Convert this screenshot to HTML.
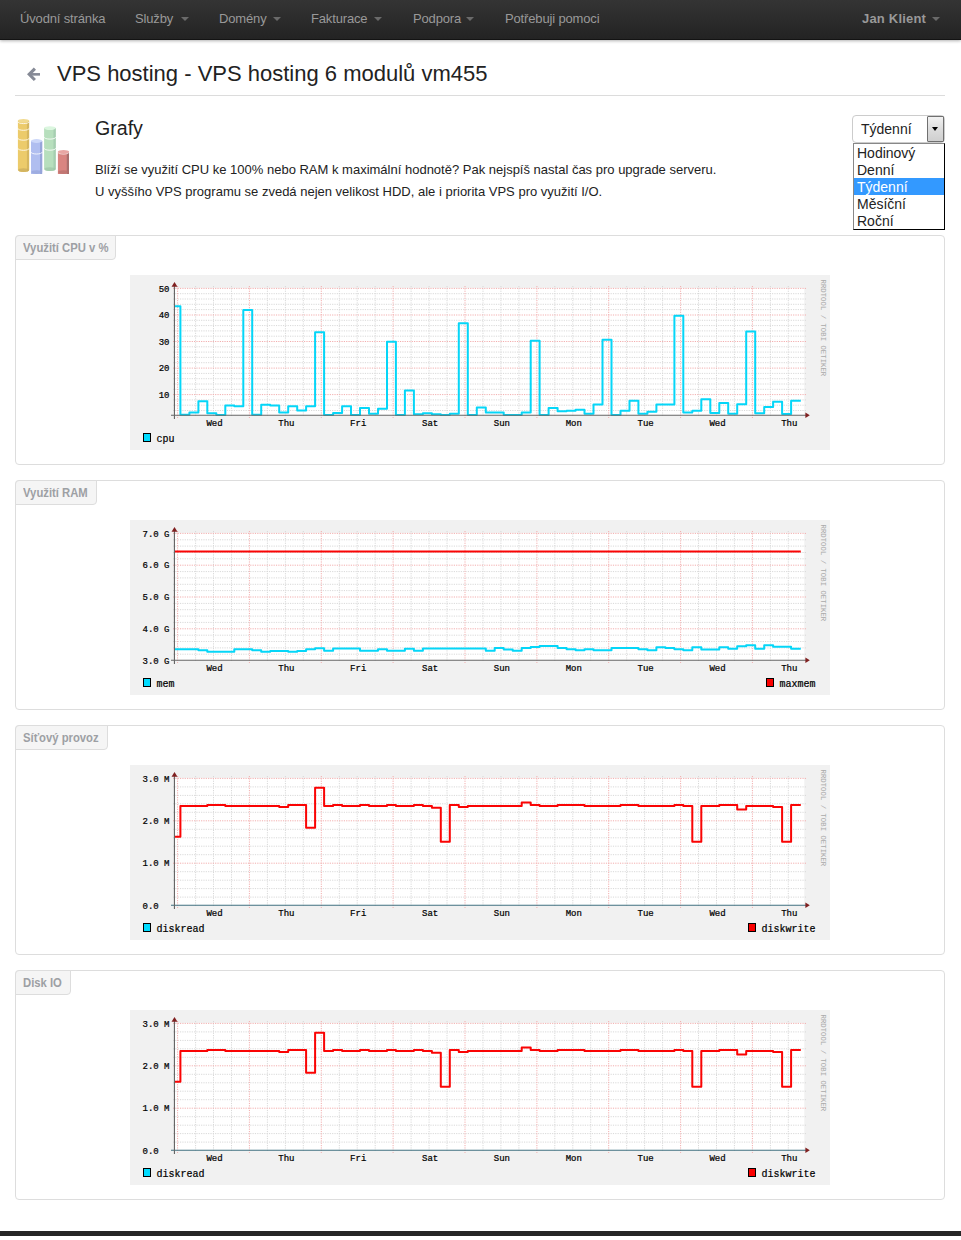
<!DOCTYPE html>
<html lang="cs"><head><meta charset="utf-8"><title>VPS hosting</title><style>
*{box-sizing:border-box}
html,body{margin:0;padding:0;background:#fff}
body{width:961px;height:1240px;position:relative;overflow:hidden;font-family:"Liberation Sans",sans-serif;font-size:13px;color:#333}
.nav{position:absolute;left:0;top:0;width:961px;height:40px;background:linear-gradient(#343434,#232323);border-bottom:1px solid #131313;box-shadow:0 1px 3px rgba(0,0,0,.3)}
.nav span{position:absolute;top:0;line-height:37px;font-size:13px;color:#999;white-space:nowrap;letter-spacing:-.15px}
.nav span.b{font-weight:bold;letter-spacing:.2px}
.nav i{position:absolute;top:17px;width:0;height:0;border-left:4px solid transparent;border-right:4px solid transparent;border-top:4px solid #6a6a6a}
.back{position:absolute;left:20px;top:60px}
h1{position:absolute;left:57px;top:60px;margin:0;font-weight:normal;font-size:22px;line-height:28px;color:#222;white-space:nowrap}
.hr{position:absolute;left:15px;top:95px;width:930px;height:1px;background:#dcdcdc}
.ico{position:absolute;left:15px;top:115px}
h2{position:absolute;left:95px;top:114px;margin:0;font-weight:normal;font-size:19.6px;line-height:28px;color:#222}
.p{position:absolute;left:95px;font-size:13px;line-height:20px;color:#222;white-space:nowrap}
.sel{position:absolute;left:852px;top:115px;width:93px;height:28px;border:1px solid #ccc;border-radius:4px;background:#fff;font-size:14px;line-height:26px;color:#222;padding-left:8px}
.sel b{position:absolute;right:0;top:0;width:17px;height:26px;border:1px solid #707070;border-radius:1px;background:linear-gradient(#f2f2f2,#ddd 50%,#cfcfcf)}
.sel b:after{content:"";position:absolute;left:4px;top:10px;border-left:3.5px solid transparent;border-right:3.5px solid transparent;border-top:4px solid #000}
.dd{position:absolute;left:853px;top:143px;width:92px;height:87px;background:#fff;border:1px solid #000;border-left-color:#888;border-top-color:#888;font-size:14px;color:#222}
.dd div{height:17px;line-height:19px;padding-left:3px}
.dd div.s{background:#3399ff;color:#fff}
.panel{position:absolute;left:15px;width:930px;height:230px;border:1px solid #ddd;border-radius:4px;background:#fff}
.panel .t{position:absolute;left:-1px;top:-1px;height:25px;padding:4px 7px 2px;font-size:12px;line-height:17px;font-weight:bold;color:#9da0a4;background:#f5f5f5;border:1px solid #ddd;border-radius:4px 0 4px 0;white-space:nowrap}
.panel .t span{display:inline-block;transform:scaleX(.94);transform-origin:0 50%}
.panel .ch{position:absolute;left:114px;top:39px}
.foot{position:absolute;left:0;top:1231px;width:961px;height:5px;background:#262626}
</style></head><body>
<div class="nav"><span style="left:20px">Úvodní stránka</span><span style="left:135px">Služby</span><i style="left:181px"></i><span style="left:219px">Domény</span><i style="left:273px"></i><span style="left:311px">Fakturace</span><i style="left:374px"></i><span style="left:413px">Podpora</span><i style="left:466px"></i><span style="left:505px">Potřebuji pomoci</span><span class="b" style="left:862px">Jan Klient</span><i style="left:932px"></i></div>
<svg class="back" width="30" height="30" viewBox="20 60 30 30"><path d="M34.9 68.6L29.2 74.3L34.9 80" stroke="#868a96" stroke-width="3.1" fill="none" stroke-linecap="butt" stroke-linejoin="miter"/><path d="M30 74.35H40" stroke="#868a96" stroke-width="2.6" fill="none"/></svg>
<h1>VPS hosting - VPS hosting 6 modulů vm455</h1><div class="hr"></div>
<svg class="ico" width="60" height="64" viewBox="15 115 60 64"><path d="M17.9 120.8V170.1A5.6 1.9 0 0 0 29.1 170.1V120.8Z" fill="#eccb6b"/><path d="M26.9 121.6V171.4A2.2 1.2 0 0 0 29.1 170.1V120.8Z" fill="#d6b75f"/><ellipse cx="23.5" cy="170.1" rx="5.3" ry="1.9" fill="#c9ab5c" opacity="0.7"/><path d="M17.9 121.7A5.6 1.9 0 0 0 29.1 121.7" fill="none" stroke="#fff" stroke-width="0.9" opacity="0.9"/><path d="M17.9 128.4A5.6 1.9 0 0 0 29.1 128.4" fill="none" stroke="#fff" stroke-width="0.9" opacity="0.9"/><path d="M17.9 138.3A5.6 1.9 0 0 0 29.1 138.3" fill="none" stroke="#fff" stroke-width="0.9" opacity="0.9"/><path d="M17.9 148.4A5.6 1.9 0 0 0 29.1 148.4" fill="none" stroke="#fff" stroke-width="0.9" opacity="0.9"/><ellipse cx="23.5" cy="120.8" rx="5.6" ry="1.9" fill="#f1da8f"/><path d="M31.0 141.0V172.1A5.6 1.9 0 0 0 42.2 172.1V141.0Z" fill="#b0bef0"/><path d="M40.0 141.8V173.4A2.2 1.2 0 0 0 42.2 172.1V141.0Z" fill="#97a5da"/><rect x="31.0" y="171.9" width="9.0" height="2.1" fill="#b0bef0"/><rect x="40.0" y="171.9" width="2.2" height="2.1" fill="#97a5da"/><ellipse cx="36.6" cy="172.1" rx="5.3" ry="1.9" fill="#97a5da" opacity="0.7"/><path d="M31.0 152.1A5.6 1.9 0 0 0 42.2 152.1" fill="none" stroke="#fff" stroke-width="0.9" opacity="0.9"/><ellipse cx="36.6" cy="141.0" rx="5.6" ry="1.9" fill="#ccd7f9"/><path d="M44.1 128.1V169.1A5.8 1.9 0 0 0 55.7 169.1V128.1Z" fill="#b7dfbd"/><path d="M53.5 128.9V170.4A2.2 1.2 0 0 0 55.7 169.1V128.1Z" fill="#a6ceb1"/><ellipse cx="49.9" cy="169.1" rx="5.5" ry="1.9" fill="#9cc4a6" opacity="0.7"/><path d="M44.1 137.2A5.8 1.9 0 0 0 55.7 137.2" fill="none" stroke="#fff" stroke-width="0.9" opacity="0.9"/><path d="M44.1 148.3A5.8 1.9 0 0 0 55.7 148.3" fill="none" stroke="#fff" stroke-width="0.9" opacity="0.9"/><ellipse cx="49.9" cy="128.1" rx="5.8" ry="1.9" fill="#dbf6df"/><path d="M57.9 151.8V172.1A5.6 1.9 0 0 0 69.0 172.1V151.8Z" fill="#d98581"/><path d="M66.8 152.6V173.4A2.2 1.2 0 0 0 69.0 172.1V151.8Z" fill="#a96f6d"/><rect x="57.9" y="171.9" width="8.9" height="2.1" fill="#d98581"/><rect x="66.8" y="171.9" width="2.2" height="2.1" fill="#a96f6d"/><ellipse cx="63.5" cy="172.1" rx="5.3" ry="1.9" fill="#b8716e" opacity="0.7"/><path d="M57.9 152.4A5.6 1.9 0 0 0 69.0 152.4" fill="none" stroke="#fff" stroke-width="0.9" opacity="0.9"/><ellipse cx="63.5" cy="151.8" rx="5.6" ry="1.9" fill="#e8a6a3"/></svg>
<h2>Grafy</h2>
<div class="p" style="top:160px">Blíží se využití CPU ke 100% nebo RAM k maximální hodnotě? Pak nejspíš nastal čas pro upgrade serveru.</div>
<div class="p" style="top:182px">U vyššího VPS programu se zvedá nejen velikost HDD, ale i priorita VPS pro využití I/O.</div>
<div class="sel">Týdenní<b></b></div>
<div class="panel" style="top:235px"><div class="t" style="width:101px"><span>Využití CPU v %</span></div>
<svg class="ch" width="700" height="175" viewBox="0 0 700 175">
<rect width="700" height="175" fill="#f1f1f1"/>
<rect x="45" y="13" width="629.3" height="127.5" fill="#fff"/>
<g fill="none">
<path d="M43 135.5H677" stroke="#d8d8d8" stroke-dasharray="1.17 1.17"/>
<path d="M43 130.2H677" stroke="#d8d8d8" stroke-dasharray="1.17 1.17"/>
<path d="M43 124.9H677" stroke="#d8d8d8" stroke-dasharray="1.17 1.17"/>
<path d="M43 114.3H677" stroke="#d8d8d8" stroke-dasharray="1.17 1.17"/>
<path d="M43 109.0H677" stroke="#d8d8d8" stroke-dasharray="1.17 1.17"/>
<path d="M43 103.7H677" stroke="#d8d8d8" stroke-dasharray="1.17 1.17"/>
<path d="M43 98.4H677" stroke="#d8d8d8" stroke-dasharray="1.17 1.17"/>
<path d="M43 87.7H677" stroke="#d8d8d8" stroke-dasharray="1.17 1.17"/>
<path d="M43 82.4H677" stroke="#d8d8d8" stroke-dasharray="1.17 1.17"/>
<path d="M43 77.1H677" stroke="#d8d8d8" stroke-dasharray="1.17 1.17"/>
<path d="M43 71.8H677" stroke="#d8d8d8" stroke-dasharray="1.17 1.17"/>
<path d="M43 61.2H677" stroke="#d8d8d8" stroke-dasharray="1.17 1.17"/>
<path d="M43 55.9H677" stroke="#d8d8d8" stroke-dasharray="1.17 1.17"/>
<path d="M43 50.6H677" stroke="#d8d8d8" stroke-dasharray="1.17 1.17"/>
<path d="M43 45.3H677" stroke="#d8d8d8" stroke-dasharray="1.17 1.17"/>
<path d="M43 34.6H677" stroke="#d8d8d8" stroke-dasharray="1.17 1.17"/>
<path d="M43 29.3H677" stroke="#d8d8d8" stroke-dasharray="1.17 1.17"/>
<path d="M43 24.0H677" stroke="#d8d8d8" stroke-dasharray="1.17 1.17"/>
<path d="M43 18.7H677" stroke="#d8d8d8" stroke-dasharray="1.17 1.17"/>
<path d="M65.6 11V142" stroke="#d8d8d8" stroke-dasharray="1.17 1.17"/>
<path d="M83.5 11V142" stroke="#d8d8d8" stroke-dasharray="1.17 1.17"/>
<path d="M101.5 11V142" stroke="#d8d8d8" stroke-dasharray="1.17 1.17"/>
<path d="M137.4 11V142" stroke="#d8d8d8" stroke-dasharray="1.17 1.17"/>
<path d="M155.4 11V142" stroke="#d8d8d8" stroke-dasharray="1.17 1.17"/>
<path d="M173.3 11V142" stroke="#d8d8d8" stroke-dasharray="1.17 1.17"/>
<path d="M209.3 11V142" stroke="#d8d8d8" stroke-dasharray="1.17 1.17"/>
<path d="M227.2 11V142" stroke="#d8d8d8" stroke-dasharray="1.17 1.17"/>
<path d="M245.2 11V142" stroke="#d8d8d8" stroke-dasharray="1.17 1.17"/>
<path d="M281.1 11V142" stroke="#d8d8d8" stroke-dasharray="1.17 1.17"/>
<path d="M299.1 11V142" stroke="#d8d8d8" stroke-dasharray="1.17 1.17"/>
<path d="M317.0 11V142" stroke="#d8d8d8" stroke-dasharray="1.17 1.17"/>
<path d="M353.0 11V142" stroke="#d8d8d8" stroke-dasharray="1.17 1.17"/>
<path d="M370.9 11V142" stroke="#d8d8d8" stroke-dasharray="1.17 1.17"/>
<path d="M388.9 11V142" stroke="#d8d8d8" stroke-dasharray="1.17 1.17"/>
<path d="M424.8 11V142" stroke="#d8d8d8" stroke-dasharray="1.17 1.17"/>
<path d="M442.8 11V142" stroke="#d8d8d8" stroke-dasharray="1.17 1.17"/>
<path d="M460.7 11V142" stroke="#d8d8d8" stroke-dasharray="1.17 1.17"/>
<path d="M496.7 11V142" stroke="#d8d8d8" stroke-dasharray="1.17 1.17"/>
<path d="M514.6 11V142" stroke="#d8d8d8" stroke-dasharray="1.17 1.17"/>
<path d="M532.6 11V142" stroke="#d8d8d8" stroke-dasharray="1.17 1.17"/>
<path d="M568.5 11V142" stroke="#d8d8d8" stroke-dasharray="1.17 1.17"/>
<path d="M586.5 11V142" stroke="#d8d8d8" stroke-dasharray="1.17 1.17"/>
<path d="M604.4 11V142" stroke="#d8d8d8" stroke-dasharray="1.17 1.17"/>
<path d="M640.4 11V142" stroke="#d8d8d8" stroke-dasharray="1.17 1.17"/>
<path d="M658.3 11V142" stroke="#d8d8d8" stroke-dasharray="1.17 1.17"/>
<path d="M43 13.4H677" stroke="#f2adad" stroke-dasharray="1.17 1.17"/>
<path d="M43 40.0H677" stroke="#f2adad" stroke-dasharray="1.17 1.17"/>
<path d="M43 66.5H677" stroke="#f2adad" stroke-dasharray="1.17 1.17"/>
<path d="M43 93.1H677" stroke="#f2adad" stroke-dasharray="1.17 1.17"/>
<path d="M43 119.6H677" stroke="#f2adad" stroke-dasharray="1.17 1.17"/>
<path d="M47.6 11V143" stroke="#f2adad" stroke-dasharray="1.17 1.17"/>
<path d="M119.4 11V143" stroke="#f2adad" stroke-dasharray="1.17 1.17"/>
<path d="M191.3 11V143" stroke="#f2adad" stroke-dasharray="1.17 1.17"/>
<path d="M263.1 11V143" stroke="#f2adad" stroke-dasharray="1.17 1.17"/>
<path d="M335.0 11V143" stroke="#f2adad" stroke-dasharray="1.17 1.17"/>
<path d="M406.9 11V143" stroke="#f2adad" stroke-dasharray="1.17 1.17"/>
<path d="M478.7 11V143" stroke="#f2adad" stroke-dasharray="1.17 1.17"/>
<path d="M550.6 11V143" stroke="#f2adad" stroke-dasharray="1.17 1.17"/>
<path d="M622.4 11V143" stroke="#f2adad" stroke-dasharray="1.17 1.17"/>
</g>
<path d="M44.7 31.3 L50.4 31.3 L50.4 139.7 L59.4 139.7 L59.4 137.5 L68.4 137.5 L68.4 126.2 L77.3 126.2 L77.3 138.2 L86.3 138.2 L86.3 139.9 L95.3 139.9 L95.3 130.5 L104.3 130.5 L104.3 131.2 L113.3 131.2 L113.3 35.0 L122.2 35.0 L122.2 139.7 L131.2 139.7 L131.2 129.7 L140.2 129.7 L140.2 130.5 L149.2 130.5 L149.2 137.5 L158.2 137.5 L158.2 131.2 L167.2 131.2 L167.2 135.5 L176.1 135.5 L176.1 131.2 L185.1 131.2 L185.1 57.2 L194.1 57.2 L194.1 139.9 L203.1 139.9 L203.1 138.0 L212.1 138.0 L212.1 131.2 L221.0 131.2 L221.0 139.9 L230.0 139.9 L230.0 133.0 L239.0 133.0 L239.0 138.8 L248.0 138.8 L248.0 133.8 L257.0 133.8 L257.0 66.7 L265.9 66.7 L265.9 139.9 L274.9 139.9 L274.9 115.5 L283.9 115.5 L283.9 139.2 L292.9 139.2 L292.9 138.3 L301.9 138.3 L301.9 139.2 L310.8 139.2 L310.8 139.9 L319.8 139.9 L319.8 138.8 L328.8 138.8 L328.8 48.3 L337.8 48.3 L337.8 139.9 L346.8 139.9 L346.8 132.5 L355.8 132.5 L355.8 137.5 L364.7 137.5 L364.7 137.5 L373.7 137.5 L373.7 139.9 L382.7 139.9 L382.7 139.9 L391.7 139.9 L391.7 137.5 L400.7 137.5 L400.7 65.8 L409.6 65.8 L409.6 139.9 L418.6 139.9 L418.6 133.0 L427.6 133.0 L427.6 136.3 L436.6 136.3 L436.6 135.8 L445.6 135.8 L445.6 134.7 L454.5 134.7 L454.5 138.8 L463.5 138.8 L463.5 129.5 L472.5 129.5 L472.5 64.7 L481.5 64.7 L481.5 139.9 L490.5 139.9 L490.5 135.8 L499.5 135.8 L499.5 125.8 L508.4 125.8 L508.4 138.8 L517.4 138.8 L517.4 136.7 L526.4 136.7 L526.4 129.5 L535.4 129.5 L535.4 129.5 L544.4 129.5 L544.4 40.8 L553.3 40.8 L553.3 137.5 L562.3 137.5 L562.3 135.8 L571.3 135.8 L571.3 124.2 L580.3 124.2 L580.3 138.0 L589.3 138.0 L589.3 128.0 L598.2 128.0 L598.2 138.8 L607.2 138.8 L607.2 129.3 L616.2 129.3 L616.2 56.4 L625.2 56.4 L625.2 138.3 L634.2 138.3 L634.2 131.9 L643.1 131.9 L643.1 126.8 L652.1 126.8 L652.1 138.9 L661.1 138.9 L661.1 125.7 L670.8 125.7" fill="none" stroke="#05d6f8" stroke-width="2" stroke-linejoin="round"/>
<g fill="none">
<path d="M41 140.2H677" stroke="#666" stroke-width="1.15"/>
<path d="M44.45 9V144" stroke="#666" stroke-width="1.15"/>
</g>
<path d="M41.5 11.7L47.5 11.7L44.5 7Z" fill="#802020"/>
<path d="M675.4 137.4L675.4 143L679.8 140.2Z" fill="#802020"/>
<g font-family="'Liberation Mono', monospace" font-size="9" fill="#000" stroke="#000" stroke-width="0.22">
<text x="39.5" y="16.5" text-anchor="end">50</text>
<text x="39.5" y="43.1" text-anchor="end">40</text>
<text x="39.5" y="69.6" text-anchor="end">30</text>
<text x="39.5" y="96.2" text-anchor="end">20</text>
<text x="39.5" y="122.7" text-anchor="end">10</text>
<text x="84.5" y="150.6" text-anchor="middle">Wed</text>
<text x="156.4" y="150.6" text-anchor="middle">Thu</text>
<text x="228.2" y="150.6" text-anchor="middle">Fri</text>
<text x="300.1" y="150.6" text-anchor="middle">Sat</text>
<text x="371.9" y="150.6" text-anchor="middle">Sun</text>
<text x="443.8" y="150.6" text-anchor="middle">Mon</text>
<text x="515.6" y="150.6" text-anchor="middle">Tue</text>
<text x="587.5" y="150.6" text-anchor="middle">Wed</text>
<text x="659.3" y="150.6" text-anchor="middle">Thu</text>
</g>
<text transform="translate(690.5 4.5) rotate(90)" font-family="'Liberation Mono', monospace" font-size="7.33" fill="#a9a9a9">RRDTOOL / TOBI OETIKER</text>
<g font-family="'Liberation Mono', monospace" font-size="10" fill="#000" stroke="#000" stroke-width="0.2">
<rect x="13.5" y="158.5" width="7" height="8" fill="#00dcff" stroke="#000" stroke-width="1" shape-rendering="crispEdges"/>
<text x="26.5" y="166.7">cpu</text>
</g>
</svg>
</div>
<div class="panel" style="top:480px"><div class="t" style="width:82px"><span>Využití RAM</span></div>
<svg class="ch" width="700" height="175" viewBox="0 0 700 175">
<rect width="700" height="175" fill="#f1f1f1"/>
<rect x="45" y="13" width="629.3" height="127.5" fill="#fff"/>
<g fill="none">
<path d="M43 134.2H677" stroke="#d8d8d8" stroke-dasharray="1.17 1.17"/>
<path d="M43 127.9H677" stroke="#d8d8d8" stroke-dasharray="1.17 1.17"/>
<path d="M43 121.5H677" stroke="#d8d8d8" stroke-dasharray="1.17 1.17"/>
<path d="M43 115.2H677" stroke="#d8d8d8" stroke-dasharray="1.17 1.17"/>
<path d="M43 102.4H677" stroke="#d8d8d8" stroke-dasharray="1.17 1.17"/>
<path d="M43 96.1H677" stroke="#d8d8d8" stroke-dasharray="1.17 1.17"/>
<path d="M43 89.7H677" stroke="#d8d8d8" stroke-dasharray="1.17 1.17"/>
<path d="M43 83.4H677" stroke="#d8d8d8" stroke-dasharray="1.17 1.17"/>
<path d="M43 70.6H677" stroke="#d8d8d8" stroke-dasharray="1.17 1.17"/>
<path d="M43 64.3H677" stroke="#d8d8d8" stroke-dasharray="1.17 1.17"/>
<path d="M43 57.9H677" stroke="#d8d8d8" stroke-dasharray="1.17 1.17"/>
<path d="M43 51.6H677" stroke="#d8d8d8" stroke-dasharray="1.17 1.17"/>
<path d="M43 38.8H677" stroke="#d8d8d8" stroke-dasharray="1.17 1.17"/>
<path d="M43 32.5H677" stroke="#d8d8d8" stroke-dasharray="1.17 1.17"/>
<path d="M43 26.1H677" stroke="#d8d8d8" stroke-dasharray="1.17 1.17"/>
<path d="M43 19.8H677" stroke="#d8d8d8" stroke-dasharray="1.17 1.17"/>
<path d="M65.6 11V142" stroke="#d8d8d8" stroke-dasharray="1.17 1.17"/>
<path d="M83.5 11V142" stroke="#d8d8d8" stroke-dasharray="1.17 1.17"/>
<path d="M101.5 11V142" stroke="#d8d8d8" stroke-dasharray="1.17 1.17"/>
<path d="M137.4 11V142" stroke="#d8d8d8" stroke-dasharray="1.17 1.17"/>
<path d="M155.4 11V142" stroke="#d8d8d8" stroke-dasharray="1.17 1.17"/>
<path d="M173.3 11V142" stroke="#d8d8d8" stroke-dasharray="1.17 1.17"/>
<path d="M209.3 11V142" stroke="#d8d8d8" stroke-dasharray="1.17 1.17"/>
<path d="M227.2 11V142" stroke="#d8d8d8" stroke-dasharray="1.17 1.17"/>
<path d="M245.2 11V142" stroke="#d8d8d8" stroke-dasharray="1.17 1.17"/>
<path d="M281.1 11V142" stroke="#d8d8d8" stroke-dasharray="1.17 1.17"/>
<path d="M299.1 11V142" stroke="#d8d8d8" stroke-dasharray="1.17 1.17"/>
<path d="M317.0 11V142" stroke="#d8d8d8" stroke-dasharray="1.17 1.17"/>
<path d="M353.0 11V142" stroke="#d8d8d8" stroke-dasharray="1.17 1.17"/>
<path d="M370.9 11V142" stroke="#d8d8d8" stroke-dasharray="1.17 1.17"/>
<path d="M388.9 11V142" stroke="#d8d8d8" stroke-dasharray="1.17 1.17"/>
<path d="M424.8 11V142" stroke="#d8d8d8" stroke-dasharray="1.17 1.17"/>
<path d="M442.8 11V142" stroke="#d8d8d8" stroke-dasharray="1.17 1.17"/>
<path d="M460.7 11V142" stroke="#d8d8d8" stroke-dasharray="1.17 1.17"/>
<path d="M496.7 11V142" stroke="#d8d8d8" stroke-dasharray="1.17 1.17"/>
<path d="M514.6 11V142" stroke="#d8d8d8" stroke-dasharray="1.17 1.17"/>
<path d="M532.6 11V142" stroke="#d8d8d8" stroke-dasharray="1.17 1.17"/>
<path d="M568.5 11V142" stroke="#d8d8d8" stroke-dasharray="1.17 1.17"/>
<path d="M586.5 11V142" stroke="#d8d8d8" stroke-dasharray="1.17 1.17"/>
<path d="M604.4 11V142" stroke="#d8d8d8" stroke-dasharray="1.17 1.17"/>
<path d="M640.4 11V142" stroke="#d8d8d8" stroke-dasharray="1.17 1.17"/>
<path d="M658.3 11V142" stroke="#d8d8d8" stroke-dasharray="1.17 1.17"/>
<path d="M43 13.4H677" stroke="#f2adad" stroke-dasharray="1.17 1.17"/>
<path d="M43 45.2H677" stroke="#f2adad" stroke-dasharray="1.17 1.17"/>
<path d="M43 77.0H677" stroke="#f2adad" stroke-dasharray="1.17 1.17"/>
<path d="M43 108.8H677" stroke="#f2adad" stroke-dasharray="1.17 1.17"/>
<path d="M47.6 11V143" stroke="#f2adad" stroke-dasharray="1.17 1.17"/>
<path d="M119.4 11V143" stroke="#f2adad" stroke-dasharray="1.17 1.17"/>
<path d="M191.3 11V143" stroke="#f2adad" stroke-dasharray="1.17 1.17"/>
<path d="M263.1 11V143" stroke="#f2adad" stroke-dasharray="1.17 1.17"/>
<path d="M335.0 11V143" stroke="#f2adad" stroke-dasharray="1.17 1.17"/>
<path d="M406.9 11V143" stroke="#f2adad" stroke-dasharray="1.17 1.17"/>
<path d="M478.7 11V143" stroke="#f2adad" stroke-dasharray="1.17 1.17"/>
<path d="M550.6 11V143" stroke="#f2adad" stroke-dasharray="1.17 1.17"/>
<path d="M622.4 11V143" stroke="#f2adad" stroke-dasharray="1.17 1.17"/>
</g>
<path d="M44.7 129.3 L50.4 129.3 L50.4 129.3 L59.4 129.3 L59.4 129.3 L68.4 129.3 L68.4 130.3 L77.3 130.3 L77.3 131.8 L86.3 131.8 L86.3 131.8 L95.3 131.8 L95.3 131.8 L104.3 131.8 L104.3 129.3 L113.3 129.3 L113.3 129.3 L122.2 129.3 L122.2 130.3 L131.2 130.3 L131.2 131.8 L140.2 131.8 L140.2 131.0 L149.2 131.0 L149.2 131.0 L158.2 131.0 L158.2 131.8 L167.2 131.8 L167.2 131.0 L176.1 131.0 L176.1 129.3 L185.1 129.3 L185.1 128.3 L194.1 128.3 L194.1 130.8 L203.1 130.8 L203.1 128.4 L212.1 128.4 L212.1 128.4 L221.0 128.4 L221.0 128.4 L230.0 128.4 L230.0 130.8 L239.0 130.8 L239.0 130.8 L248.0 130.8 L248.0 129.2 L257.0 129.2 L257.0 130.8 L265.9 130.8 L265.9 130.8 L274.9 130.8 L274.9 128.7 L283.9 128.7 L283.9 130.8 L292.9 130.8 L292.9 128.4 L301.9 128.4 L301.9 128.4 L310.8 128.4 L310.8 128.4 L319.8 128.4 L319.8 128.4 L328.8 128.4 L328.8 128.4 L337.8 128.4 L337.8 128.4 L346.8 128.4 L346.8 128.4 L355.8 128.4 L355.8 130.8 L364.7 130.8 L364.7 128.1 L373.7 128.1 L373.7 129.5 L382.7 129.5 L382.7 130.8 L391.7 130.8 L391.7 127.9 L400.7 127.9 L400.7 127.0 L409.6 127.0 L409.6 126.0 L418.6 126.0 L418.6 126.0 L427.6 126.0 L427.6 127.9 L436.6 127.9 L436.6 129.2 L445.6 129.2 L445.6 130.3 L454.5 130.3 L454.5 129.2 L463.5 129.2 L463.5 130.3 L472.5 130.3 L472.5 130.3 L481.5 130.3 L481.5 128.1 L490.5 128.1 L490.5 128.1 L499.5 128.1 L499.5 128.1 L508.4 128.1 L508.4 129.2 L517.4 129.2 L517.4 130.3 L526.4 130.3 L526.4 127.3 L535.4 127.3 L535.4 128.1 L544.4 128.1 L544.4 129.2 L553.3 129.2 L553.3 130.3 L562.3 130.3 L562.3 127.3 L571.3 127.3 L571.3 129.5 L580.3 129.5 L580.3 129.5 L589.3 129.5 L589.3 127.3 L598.2 127.3 L598.2 128.7 L607.2 128.7 L607.2 126.2 L616.2 126.2 L616.2 125.2 L625.2 125.2 L625.2 128.7 L634.2 128.7 L634.2 125.2 L643.1 125.2 L643.1 126.8 L652.1 126.8 L652.1 126.8 L661.1 126.8 L661.1 128.7 L670.8 128.7" fill="none" stroke="#05d6f8" stroke-width="2" stroke-linejoin="round"/>
<path d="M44.7 31.6H670.8" fill="none" stroke="#fa0404" stroke-width="2"/>
<g fill="none">
<path d="M41 140.2H677" stroke="#666" stroke-width="1.15"/>
<path d="M44.45 9V144" stroke="#666" stroke-width="1.15"/>
</g>
<path d="M41.5 11.7L47.5 11.7L44.5 7Z" fill="#802020"/>
<path d="M675.4 137.4L675.4 143L679.8 140.2Z" fill="#802020"/>
<g font-family="'Liberation Mono', monospace" font-size="9" fill="#000" stroke="#000" stroke-width="0.22">
<text x="39.5" y="16.5" text-anchor="end">7.0 G</text>
<text x="39.5" y="48.3" text-anchor="end">6.0 G</text>
<text x="39.5" y="80.1" text-anchor="end">5.0 G</text>
<text x="39.5" y="111.9" text-anchor="end">4.0 G</text>
<text x="39.5" y="143.7" text-anchor="end">3.0 G</text>
<text x="84.5" y="150.6" text-anchor="middle">Wed</text>
<text x="156.4" y="150.6" text-anchor="middle">Thu</text>
<text x="228.2" y="150.6" text-anchor="middle">Fri</text>
<text x="300.1" y="150.6" text-anchor="middle">Sat</text>
<text x="371.9" y="150.6" text-anchor="middle">Sun</text>
<text x="443.8" y="150.6" text-anchor="middle">Mon</text>
<text x="515.6" y="150.6" text-anchor="middle">Tue</text>
<text x="587.5" y="150.6" text-anchor="middle">Wed</text>
<text x="659.3" y="150.6" text-anchor="middle">Thu</text>
</g>
<text transform="translate(690.5 4.5) rotate(90)" font-family="'Liberation Mono', monospace" font-size="7.33" fill="#a9a9a9">RRDTOOL / TOBI OETIKER</text>
<g font-family="'Liberation Mono', monospace" font-size="10" fill="#000" stroke="#000" stroke-width="0.2">
<rect x="13.5" y="158.5" width="7" height="8" fill="#00dcff" stroke="#000" stroke-width="1" shape-rendering="crispEdges"/>
<text x="26.5" y="166.7">mem</text>
<rect x="636.5" y="158.5" width="7" height="8" fill="#fa0000" stroke="#000" stroke-width="1" shape-rendering="crispEdges"/>
<text x="649.5" y="166.7">maxmem</text>
</g>
</svg>
</div>
<div class="panel" style="top:725px"><div class="t" style="width:93px"><span>Síťový provoz</span></div>
<svg class="ch" width="700" height="175" viewBox="0 0 700 175">
<rect width="700" height="175" fill="#f1f1f1"/>
<rect x="45" y="13" width="629.3" height="127.5" fill="#fff"/>
<g fill="none">
<path d="M43 132.1H677" stroke="#d8d8d8" stroke-dasharray="1.17 1.17"/>
<path d="M43 123.6H677" stroke="#d8d8d8" stroke-dasharray="1.17 1.17"/>
<path d="M43 115.2H677" stroke="#d8d8d8" stroke-dasharray="1.17 1.17"/>
<path d="M43 106.7H677" stroke="#d8d8d8" stroke-dasharray="1.17 1.17"/>
<path d="M43 89.7H677" stroke="#d8d8d8" stroke-dasharray="1.17 1.17"/>
<path d="M43 81.2H677" stroke="#d8d8d8" stroke-dasharray="1.17 1.17"/>
<path d="M43 72.8H677" stroke="#d8d8d8" stroke-dasharray="1.17 1.17"/>
<path d="M43 64.3H677" stroke="#d8d8d8" stroke-dasharray="1.17 1.17"/>
<path d="M43 47.3H677" stroke="#d8d8d8" stroke-dasharray="1.17 1.17"/>
<path d="M43 38.8H677" stroke="#d8d8d8" stroke-dasharray="1.17 1.17"/>
<path d="M43 30.4H677" stroke="#d8d8d8" stroke-dasharray="1.17 1.17"/>
<path d="M43 21.9H677" stroke="#d8d8d8" stroke-dasharray="1.17 1.17"/>
<path d="M65.6 11V142" stroke="#d8d8d8" stroke-dasharray="1.17 1.17"/>
<path d="M83.5 11V142" stroke="#d8d8d8" stroke-dasharray="1.17 1.17"/>
<path d="M101.5 11V142" stroke="#d8d8d8" stroke-dasharray="1.17 1.17"/>
<path d="M137.4 11V142" stroke="#d8d8d8" stroke-dasharray="1.17 1.17"/>
<path d="M155.4 11V142" stroke="#d8d8d8" stroke-dasharray="1.17 1.17"/>
<path d="M173.3 11V142" stroke="#d8d8d8" stroke-dasharray="1.17 1.17"/>
<path d="M209.3 11V142" stroke="#d8d8d8" stroke-dasharray="1.17 1.17"/>
<path d="M227.2 11V142" stroke="#d8d8d8" stroke-dasharray="1.17 1.17"/>
<path d="M245.2 11V142" stroke="#d8d8d8" stroke-dasharray="1.17 1.17"/>
<path d="M281.1 11V142" stroke="#d8d8d8" stroke-dasharray="1.17 1.17"/>
<path d="M299.1 11V142" stroke="#d8d8d8" stroke-dasharray="1.17 1.17"/>
<path d="M317.0 11V142" stroke="#d8d8d8" stroke-dasharray="1.17 1.17"/>
<path d="M353.0 11V142" stroke="#d8d8d8" stroke-dasharray="1.17 1.17"/>
<path d="M370.9 11V142" stroke="#d8d8d8" stroke-dasharray="1.17 1.17"/>
<path d="M388.9 11V142" stroke="#d8d8d8" stroke-dasharray="1.17 1.17"/>
<path d="M424.8 11V142" stroke="#d8d8d8" stroke-dasharray="1.17 1.17"/>
<path d="M442.8 11V142" stroke="#d8d8d8" stroke-dasharray="1.17 1.17"/>
<path d="M460.7 11V142" stroke="#d8d8d8" stroke-dasharray="1.17 1.17"/>
<path d="M496.7 11V142" stroke="#d8d8d8" stroke-dasharray="1.17 1.17"/>
<path d="M514.6 11V142" stroke="#d8d8d8" stroke-dasharray="1.17 1.17"/>
<path d="M532.6 11V142" stroke="#d8d8d8" stroke-dasharray="1.17 1.17"/>
<path d="M568.5 11V142" stroke="#d8d8d8" stroke-dasharray="1.17 1.17"/>
<path d="M586.5 11V142" stroke="#d8d8d8" stroke-dasharray="1.17 1.17"/>
<path d="M604.4 11V142" stroke="#d8d8d8" stroke-dasharray="1.17 1.17"/>
<path d="M640.4 11V142" stroke="#d8d8d8" stroke-dasharray="1.17 1.17"/>
<path d="M658.3 11V142" stroke="#d8d8d8" stroke-dasharray="1.17 1.17"/>
<path d="M43 13.4H677" stroke="#f2adad" stroke-dasharray="1.17 1.17"/>
<path d="M43 55.8H677" stroke="#f2adad" stroke-dasharray="1.17 1.17"/>
<path d="M43 98.2H677" stroke="#f2adad" stroke-dasharray="1.17 1.17"/>
<path d="M47.6 11V143" stroke="#f2adad" stroke-dasharray="1.17 1.17"/>
<path d="M119.4 11V143" stroke="#f2adad" stroke-dasharray="1.17 1.17"/>
<path d="M191.3 11V143" stroke="#f2adad" stroke-dasharray="1.17 1.17"/>
<path d="M263.1 11V143" stroke="#f2adad" stroke-dasharray="1.17 1.17"/>
<path d="M335.0 11V143" stroke="#f2adad" stroke-dasharray="1.17 1.17"/>
<path d="M406.9 11V143" stroke="#f2adad" stroke-dasharray="1.17 1.17"/>
<path d="M478.7 11V143" stroke="#f2adad" stroke-dasharray="1.17 1.17"/>
<path d="M550.6 11V143" stroke="#f2adad" stroke-dasharray="1.17 1.17"/>
<path d="M622.4 11V143" stroke="#f2adad" stroke-dasharray="1.17 1.17"/>
</g>
<path d="M44.7 71.8 L50.4 71.8 L50.4 41.0 L59.4 41.0 L59.4 41.0 L68.4 41.0 L68.4 41.0 L77.3 41.0 L77.3 40.0 L86.3 40.0 L86.3 40.0 L95.3 40.0 L95.3 41.0 L104.3 41.0 L104.3 41.0 L113.3 41.0 L113.3 41.0 L122.2 41.0 L122.2 41.0 L131.2 41.0 L131.2 41.0 L140.2 41.0 L140.2 41.0 L149.2 41.0 L149.2 42.0 L158.2 42.0 L158.2 40.0 L167.2 40.0 L167.2 40.0 L176.1 40.0 L176.1 62.8 L185.1 62.8 L185.1 22.8 L194.1 22.8 L194.1 41.0 L203.1 41.0 L203.1 40.0 L212.1 40.0 L212.1 41.0 L221.0 41.0 L221.0 41.0 L230.0 41.0 L230.0 40.0 L239.0 40.0 L239.0 41.0 L248.0 41.0 L248.0 41.0 L257.0 41.0 L257.0 40.0 L265.9 40.0 L265.9 41.0 L274.9 41.0 L274.9 41.0 L283.9 41.0 L283.9 40.0 L292.9 40.0 L292.9 41.0 L301.9 41.0 L301.9 42.8 L310.8 42.8 L310.8 76.8 L319.8 76.8 L319.8 40.0 L328.8 40.0 L328.8 42.0 L337.8 42.0 L337.8 41.0 L346.8 41.0 L346.8 41.0 L355.8 41.0 L355.8 41.0 L364.7 41.0 L364.7 41.0 L373.7 41.0 L373.7 41.0 L382.7 41.0 L382.7 41.0 L391.7 41.0 L391.7 37.5 L400.7 37.5 L400.7 40.0 L409.6 40.0 L409.6 41.0 L418.6 41.0 L418.6 41.0 L427.6 41.0 L427.6 40.0 L436.6 40.0 L436.6 40.0 L445.6 40.0 L445.6 40.0 L454.5 40.0 L454.5 41.0 L463.5 41.0 L463.5 41.0 L472.5 41.0 L472.5 41.0 L481.5 41.0 L481.5 41.0 L490.5 41.0 L490.5 40.0 L499.5 40.0 L499.5 40.0 L508.4 40.0 L508.4 41.0 L517.4 41.0 L517.4 41.0 L526.4 41.0 L526.4 41.0 L535.4 41.0 L535.4 41.0 L544.4 41.0 L544.4 40.0 L553.3 40.0 L553.3 41.0 L562.3 41.0 L562.3 76.8 L571.3 76.8 L571.3 41.0 L580.3 41.0 L580.3 41.0 L589.3 41.0 L589.3 40.0 L598.2 40.0 L598.2 40.0 L607.2 40.0 L607.2 44.5 L616.2 44.5 L616.2 41.0 L625.2 41.0 L625.2 41.0 L634.2 41.0 L634.2 41.0 L643.1 41.0 L643.1 42.0 L652.1 42.0 L652.1 76.8 L661.1 76.8 L661.1 40.0 L670.8 40.0" fill="none" stroke="#fa0404" stroke-width="2" stroke-linejoin="round"/>
<g fill="none">
<path d="M41 140.2H677" stroke="#3f6f7f" stroke-width="1.15"/>
<path d="M44.45 9V144" stroke="#666" stroke-width="1.15"/>
</g>
<path d="M41.5 11.7L47.5 11.7L44.5 7Z" fill="#802020"/>
<path d="M675.4 137.4L675.4 143L679.8 140.2Z" fill="#802020"/>
<g font-family="'Liberation Mono', monospace" font-size="9" fill="#000" stroke="#000" stroke-width="0.22">
<text x="39.5" y="16.5" text-anchor="end">3.0 M</text>
<text x="39.5" y="58.9" text-anchor="end">2.0 M</text>
<text x="39.5" y="101.3" text-anchor="end">1.0 M</text>
<text x="28.7" y="143.7" text-anchor="end">0.0</text>
<text x="84.5" y="150.6" text-anchor="middle">Wed</text>
<text x="156.4" y="150.6" text-anchor="middle">Thu</text>
<text x="228.2" y="150.6" text-anchor="middle">Fri</text>
<text x="300.1" y="150.6" text-anchor="middle">Sat</text>
<text x="371.9" y="150.6" text-anchor="middle">Sun</text>
<text x="443.8" y="150.6" text-anchor="middle">Mon</text>
<text x="515.6" y="150.6" text-anchor="middle">Tue</text>
<text x="587.5" y="150.6" text-anchor="middle">Wed</text>
<text x="659.3" y="150.6" text-anchor="middle">Thu</text>
</g>
<text transform="translate(690.5 4.5) rotate(90)" font-family="'Liberation Mono', monospace" font-size="7.33" fill="#a9a9a9">RRDTOOL / TOBI OETIKER</text>
<g font-family="'Liberation Mono', monospace" font-size="10" fill="#000" stroke="#000" stroke-width="0.2">
<rect x="13.5" y="158.5" width="7" height="8" fill="#00dcff" stroke="#000" stroke-width="1" shape-rendering="crispEdges"/>
<text x="26.5" y="166.7">diskread</text>
<rect x="618.5" y="158.5" width="7" height="8" fill="#fa0000" stroke="#000" stroke-width="1" shape-rendering="crispEdges"/>
<text x="631.5" y="166.7">diskwrite</text>
</g>
</svg>
</div>
<div class="panel" style="top:970px"><div class="t" style="width:56px"><span>Disk IO</span></div>
<svg class="ch" width="700" height="175" viewBox="0 0 700 175">
<rect width="700" height="175" fill="#f1f1f1"/>
<rect x="45" y="13" width="629.3" height="127.5" fill="#fff"/>
<g fill="none">
<path d="M43 132.1H677" stroke="#d8d8d8" stroke-dasharray="1.17 1.17"/>
<path d="M43 123.6H677" stroke="#d8d8d8" stroke-dasharray="1.17 1.17"/>
<path d="M43 115.2H677" stroke="#d8d8d8" stroke-dasharray="1.17 1.17"/>
<path d="M43 106.7H677" stroke="#d8d8d8" stroke-dasharray="1.17 1.17"/>
<path d="M43 89.7H677" stroke="#d8d8d8" stroke-dasharray="1.17 1.17"/>
<path d="M43 81.2H677" stroke="#d8d8d8" stroke-dasharray="1.17 1.17"/>
<path d="M43 72.8H677" stroke="#d8d8d8" stroke-dasharray="1.17 1.17"/>
<path d="M43 64.3H677" stroke="#d8d8d8" stroke-dasharray="1.17 1.17"/>
<path d="M43 47.3H677" stroke="#d8d8d8" stroke-dasharray="1.17 1.17"/>
<path d="M43 38.8H677" stroke="#d8d8d8" stroke-dasharray="1.17 1.17"/>
<path d="M43 30.4H677" stroke="#d8d8d8" stroke-dasharray="1.17 1.17"/>
<path d="M43 21.9H677" stroke="#d8d8d8" stroke-dasharray="1.17 1.17"/>
<path d="M65.6 11V142" stroke="#d8d8d8" stroke-dasharray="1.17 1.17"/>
<path d="M83.5 11V142" stroke="#d8d8d8" stroke-dasharray="1.17 1.17"/>
<path d="M101.5 11V142" stroke="#d8d8d8" stroke-dasharray="1.17 1.17"/>
<path d="M137.4 11V142" stroke="#d8d8d8" stroke-dasharray="1.17 1.17"/>
<path d="M155.4 11V142" stroke="#d8d8d8" stroke-dasharray="1.17 1.17"/>
<path d="M173.3 11V142" stroke="#d8d8d8" stroke-dasharray="1.17 1.17"/>
<path d="M209.3 11V142" stroke="#d8d8d8" stroke-dasharray="1.17 1.17"/>
<path d="M227.2 11V142" stroke="#d8d8d8" stroke-dasharray="1.17 1.17"/>
<path d="M245.2 11V142" stroke="#d8d8d8" stroke-dasharray="1.17 1.17"/>
<path d="M281.1 11V142" stroke="#d8d8d8" stroke-dasharray="1.17 1.17"/>
<path d="M299.1 11V142" stroke="#d8d8d8" stroke-dasharray="1.17 1.17"/>
<path d="M317.0 11V142" stroke="#d8d8d8" stroke-dasharray="1.17 1.17"/>
<path d="M353.0 11V142" stroke="#d8d8d8" stroke-dasharray="1.17 1.17"/>
<path d="M370.9 11V142" stroke="#d8d8d8" stroke-dasharray="1.17 1.17"/>
<path d="M388.9 11V142" stroke="#d8d8d8" stroke-dasharray="1.17 1.17"/>
<path d="M424.8 11V142" stroke="#d8d8d8" stroke-dasharray="1.17 1.17"/>
<path d="M442.8 11V142" stroke="#d8d8d8" stroke-dasharray="1.17 1.17"/>
<path d="M460.7 11V142" stroke="#d8d8d8" stroke-dasharray="1.17 1.17"/>
<path d="M496.7 11V142" stroke="#d8d8d8" stroke-dasharray="1.17 1.17"/>
<path d="M514.6 11V142" stroke="#d8d8d8" stroke-dasharray="1.17 1.17"/>
<path d="M532.6 11V142" stroke="#d8d8d8" stroke-dasharray="1.17 1.17"/>
<path d="M568.5 11V142" stroke="#d8d8d8" stroke-dasharray="1.17 1.17"/>
<path d="M586.5 11V142" stroke="#d8d8d8" stroke-dasharray="1.17 1.17"/>
<path d="M604.4 11V142" stroke="#d8d8d8" stroke-dasharray="1.17 1.17"/>
<path d="M640.4 11V142" stroke="#d8d8d8" stroke-dasharray="1.17 1.17"/>
<path d="M658.3 11V142" stroke="#d8d8d8" stroke-dasharray="1.17 1.17"/>
<path d="M43 13.4H677" stroke="#f2adad" stroke-dasharray="1.17 1.17"/>
<path d="M43 55.8H677" stroke="#f2adad" stroke-dasharray="1.17 1.17"/>
<path d="M43 98.2H677" stroke="#f2adad" stroke-dasharray="1.17 1.17"/>
<path d="M47.6 11V143" stroke="#f2adad" stroke-dasharray="1.17 1.17"/>
<path d="M119.4 11V143" stroke="#f2adad" stroke-dasharray="1.17 1.17"/>
<path d="M191.3 11V143" stroke="#f2adad" stroke-dasharray="1.17 1.17"/>
<path d="M263.1 11V143" stroke="#f2adad" stroke-dasharray="1.17 1.17"/>
<path d="M335.0 11V143" stroke="#f2adad" stroke-dasharray="1.17 1.17"/>
<path d="M406.9 11V143" stroke="#f2adad" stroke-dasharray="1.17 1.17"/>
<path d="M478.7 11V143" stroke="#f2adad" stroke-dasharray="1.17 1.17"/>
<path d="M550.6 11V143" stroke="#f2adad" stroke-dasharray="1.17 1.17"/>
<path d="M622.4 11V143" stroke="#f2adad" stroke-dasharray="1.17 1.17"/>
</g>
<path d="M44.7 71.8 L50.4 71.8 L50.4 41.0 L59.4 41.0 L59.4 41.0 L68.4 41.0 L68.4 41.0 L77.3 41.0 L77.3 40.0 L86.3 40.0 L86.3 40.0 L95.3 40.0 L95.3 41.0 L104.3 41.0 L104.3 41.0 L113.3 41.0 L113.3 41.0 L122.2 41.0 L122.2 41.0 L131.2 41.0 L131.2 41.0 L140.2 41.0 L140.2 41.0 L149.2 41.0 L149.2 42.0 L158.2 42.0 L158.2 40.0 L167.2 40.0 L167.2 40.0 L176.1 40.0 L176.1 62.8 L185.1 62.8 L185.1 22.8 L194.1 22.8 L194.1 41.0 L203.1 41.0 L203.1 40.0 L212.1 40.0 L212.1 41.0 L221.0 41.0 L221.0 41.0 L230.0 41.0 L230.0 40.0 L239.0 40.0 L239.0 41.0 L248.0 41.0 L248.0 41.0 L257.0 41.0 L257.0 40.0 L265.9 40.0 L265.9 41.0 L274.9 41.0 L274.9 41.0 L283.9 41.0 L283.9 40.0 L292.9 40.0 L292.9 41.0 L301.9 41.0 L301.9 42.8 L310.8 42.8 L310.8 76.8 L319.8 76.8 L319.8 40.0 L328.8 40.0 L328.8 42.0 L337.8 42.0 L337.8 41.0 L346.8 41.0 L346.8 41.0 L355.8 41.0 L355.8 41.0 L364.7 41.0 L364.7 41.0 L373.7 41.0 L373.7 41.0 L382.7 41.0 L382.7 41.0 L391.7 41.0 L391.7 37.5 L400.7 37.5 L400.7 40.0 L409.6 40.0 L409.6 41.0 L418.6 41.0 L418.6 41.0 L427.6 41.0 L427.6 40.0 L436.6 40.0 L436.6 40.0 L445.6 40.0 L445.6 40.0 L454.5 40.0 L454.5 41.0 L463.5 41.0 L463.5 41.0 L472.5 41.0 L472.5 41.0 L481.5 41.0 L481.5 41.0 L490.5 41.0 L490.5 40.0 L499.5 40.0 L499.5 40.0 L508.4 40.0 L508.4 41.0 L517.4 41.0 L517.4 41.0 L526.4 41.0 L526.4 41.0 L535.4 41.0 L535.4 41.0 L544.4 41.0 L544.4 40.0 L553.3 40.0 L553.3 41.0 L562.3 41.0 L562.3 76.8 L571.3 76.8 L571.3 41.0 L580.3 41.0 L580.3 41.0 L589.3 41.0 L589.3 40.0 L598.2 40.0 L598.2 40.0 L607.2 40.0 L607.2 44.5 L616.2 44.5 L616.2 41.0 L625.2 41.0 L625.2 41.0 L634.2 41.0 L634.2 41.0 L643.1 41.0 L643.1 42.0 L652.1 42.0 L652.1 76.8 L661.1 76.8 L661.1 40.0 L670.8 40.0" fill="none" stroke="#fa0404" stroke-width="2" stroke-linejoin="round"/>
<g fill="none">
<path d="M41 140.2H677" stroke="#3f6f7f" stroke-width="1.15"/>
<path d="M44.45 9V144" stroke="#666" stroke-width="1.15"/>
</g>
<path d="M41.5 11.7L47.5 11.7L44.5 7Z" fill="#802020"/>
<path d="M675.4 137.4L675.4 143L679.8 140.2Z" fill="#802020"/>
<g font-family="'Liberation Mono', monospace" font-size="9" fill="#000" stroke="#000" stroke-width="0.22">
<text x="39.5" y="16.5" text-anchor="end">3.0 M</text>
<text x="39.5" y="58.9" text-anchor="end">2.0 M</text>
<text x="39.5" y="101.3" text-anchor="end">1.0 M</text>
<text x="28.7" y="143.7" text-anchor="end">0.0</text>
<text x="84.5" y="150.6" text-anchor="middle">Wed</text>
<text x="156.4" y="150.6" text-anchor="middle">Thu</text>
<text x="228.2" y="150.6" text-anchor="middle">Fri</text>
<text x="300.1" y="150.6" text-anchor="middle">Sat</text>
<text x="371.9" y="150.6" text-anchor="middle">Sun</text>
<text x="443.8" y="150.6" text-anchor="middle">Mon</text>
<text x="515.6" y="150.6" text-anchor="middle">Tue</text>
<text x="587.5" y="150.6" text-anchor="middle">Wed</text>
<text x="659.3" y="150.6" text-anchor="middle">Thu</text>
</g>
<text transform="translate(690.5 4.5) rotate(90)" font-family="'Liberation Mono', monospace" font-size="7.33" fill="#a9a9a9">RRDTOOL / TOBI OETIKER</text>
<g font-family="'Liberation Mono', monospace" font-size="10" fill="#000" stroke="#000" stroke-width="0.2">
<rect x="13.5" y="158.5" width="7" height="8" fill="#00dcff" stroke="#000" stroke-width="1" shape-rendering="crispEdges"/>
<text x="26.5" y="166.7">diskread</text>
<rect x="618.5" y="158.5" width="7" height="8" fill="#fa0000" stroke="#000" stroke-width="1" shape-rendering="crispEdges"/>
<text x="631.5" y="166.7">diskwrite</text>
</g>
</svg>
</div>
<div class="dd"><div>Hodinový</div><div>Denní</div><div class="s">Týdenní</div><div>Měsíční</div><div>Roční</div></div>
<div class="foot"></div>
</body></html>
